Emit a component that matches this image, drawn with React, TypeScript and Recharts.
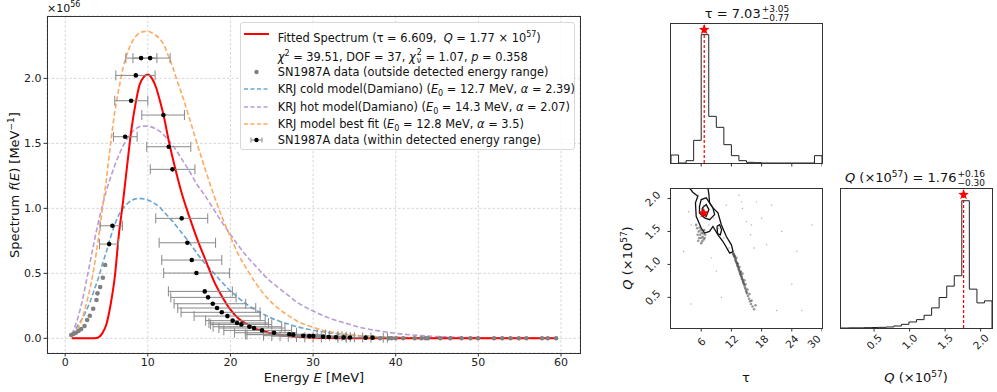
import React from 'react';
import {
  ComposedChart,
  Line,
  Scatter,
  XAxis,
  YAxis,
  CartesianGrid,
  ErrorBar,
  ReferenceLine,
} from 'recharts';

const FONT = "'DejaVu Sans', 'Liberation Sans', sans-serif";

// ---- main spectrum panel ----
const curveE = [0.8, 1, 1.5, 2, 2.5, 3, 3.5, 4, 4.5, 5, 5.5, 6, 6.5, 7, 7.5, 8, 8.5, 9, 9.5, 10, 10.5, 11, 11.5, 12, 12.5, 13, 13.5, 14, 15, 16, 17, 18, 19, 20, 21, 22, 23, 24, 25, 26, 27, 28, 30, 32, 34, 36, 38, 40, 43, 46, 50, 55, 59.5];
const fitted = [0, 0, 0, 0, 0, 0, 0.001, 0.006, 0.04, 0.11, 0.26, 0.47, 0.8, 1.05, 1.33, 1.6, 1.8, 1.95, 2.01, 2.03, 2.0, 1.93, 1.82, 1.69, 1.53, 1.39, 1.26, 1.14, 0.94, 0.76, 0.6, 0.44, 0.32, 0.22, 0.15, 0.11, 0.075, 0.055, 0.038, 0.026, 0.018, 0.012, 0.005, 0.002, 0.001, 0.0005, 0, 0, 0, 0, 0, 0, 0];
const krjCold = [0.025, 0.045, 0.095, 0.145, 0.205, 0.28, 0.37, 0.46, 0.57, 0.67, 0.78, 0.875, 0.95, 1.0, 1.035, 1.06, 1.073, 1.077, 1.073, 1.065, 1.05, 1.03, 1.005, 0.97, 0.935, 0.9, 0.86, 0.82, 0.74, 0.65, 0.57, 0.5, 0.43, 0.365, 0.31, 0.26, 0.22, 0.185, 0.155, 0.13, 0.11, 0.09, 0.062, 0.042, 0.028, 0.018, 0.012, 0.008, 0.004, 0.002, 0.001, 0, 0];
const krjHot = [0.03, 0.06, 0.15, 0.27, 0.42, 0.58, 0.74, 0.89, 1.02, 1.14, 1.24, 1.33, 1.41, 1.48, 1.535, 1.58, 1.61, 1.628, 1.633, 1.632, 1.625, 1.61, 1.59, 1.56, 1.525, 1.485, 1.44, 1.39, 1.29, 1.18, 1.09, 0.99, 0.89, 0.8, 0.71, 0.63, 0.56, 0.49, 0.43, 0.38, 0.33, 0.28, 0.21, 0.155, 0.115, 0.08, 0.057, 0.038, 0.021, 0.011, 0.005, 0.002, 0.001];
const krjBest = [0.025, 0.035, 0.075, 0.14, 0.25, 0.38, 0.55, 0.76, 0.99, 1.23, 1.5, 1.74, 1.92, 2.08, 2.19, 2.27, 2.32, 2.35, 2.36, 2.362, 2.35, 2.33, 2.3, 2.25, 2.17, 2.09, 1.99, 1.9, 1.7, 1.49, 1.29, 1.1, 0.93, 0.78, 0.64, 0.53, 0.43, 0.345, 0.275, 0.22, 0.175, 0.135, 0.085, 0.05, 0.03, 0.017, 0.01, 0.006, 0.003, 0.001, 0.0005, 0, 0];

const outsideE = [0.73, 1.0, 1.29, 1.61, 1.93, 2.34, 2.66, 2.98, 3.39, 3.79, 3.91, 4.23, 4.56, 4.84, 38.1, 39.1, 39.5, 40.0, 40.9, 42.3, 43.1, 43.6, 43.9, 45.4, 46.6, 47.96, 49.05, 49.97, 51.9, 52.9, 53.9, 54.9, 55.8, 57.7, 58.4, 59.4];
const outsideF = [0.025, 0.033, 0.043, 0.056, 0.071, 0.095, 0.141, 0.174, 0.228, 0.295, 0.346, 0.395, 0.466, 0.564, 0.001, 0.001, 0.001, 0.001, 0.001, 0.001, 0.001, 0.001, 0.001, 0.001, 0.001, 0.001, 0.001, 0.001, 0.001, 0.001, 0.001, 0.001, 0.001, 0.001, 0.001, 0.001];

const dataE = [5.32, 5.72, 7.26, 7.98, 8.55, 9.19, 10.28, 11.89, 12.53, 12.98, 14.1, 14.79, 15.32, 15.88, 16.89, 17.29, 17.86, 18.38, 18.95, 19.63, 20.27, 20.8, 21.32, 22.29, 22.85, 23.82, 25.27, 27.12, 27.6, 28.81, 29.54, 30.02, 31.2, 31.9, 32.77, 33.7, 34.46, 36.36, 37.2];
const dataF = [0.725, 0.866, 1.551, 1.828, 2.023, 2.156, 2.156, 1.718, 1.474, 1.3, 0.923, 0.735, 0.602, 0.502, 0.361, 0.315, 0.266, 0.233, 0.2, 0.171, 0.136, 0.118, 0.107, 0.089, 0.079, 0.061, 0.043, 0.031, 0.028, 0.02, 0.017, 0.017, 0.012, 0.01, 0.008, 0.007, 0.006, 0.005, 0.005];
const dataElo = [4.15, 4.23, 5.84, 6.0, 6.13, 7.34, 8.2, 9.27, 9.87, 10.3, 10.96, 11.37, 11.69, 11.92, 12.49, 12.78, 13.18, 13.62, 14.02, 15.6, 17.0, 17.4, 17.6, 17.9, 18.6, 19.2, 20.5, 21.8, 22.0, 24.0, 25.0, 26.0, 27.0, 28.0, 29.0, 30.0, 31.0, 33.0, 34.0];
const dataEhi = [6.45, 6.93, 8.71, 10.0, 10.88, 11.1, 12.7, 14.43, 15.2, 15.7, 17.25, 18.2, 18.95, 19.87, 20.23, 20.68, 21.85, 23.06, 23.58, 23.6, 24.2, 24.6, 25.0, 26.2, 26.6, 27.4, 28.0, 30.5, 31.5, 32.0, 33.0, 33.5, 34.0, 34.5, 35.0, 36.0, 37.0, 38.5, 39.0];

const energyTicks = [0, 10, 20, 30, 40, 50, 60];
const spectrumTicks = [0, 0.5, 1, 1.5, 2];

// ---- corner plot ----
const tauEdges = [0, 1.5, 3, 4.5, 6, 7.5, 9, 10.5, 12, 13.5, 15, 16.5, 18, 19.5, 21, 22.5, 24, 25.5, 27, 28.5, 30];
const tauCounts = [24, 0, 7, 68, 385, 140, 107, 55, 22, 7, 2, 1, 0, 0, 0, 0, 0, 0, 0, 22];
const qEdges = [0.035, 0.141, 0.248, 0.354, 0.46, 0.566, 0.673, 0.779, 0.885, 0.991, 1.098, 1.204, 1.31, 1.416, 1.523, 1.629, 1.735, 1.841, 1.948, 2.054, 2.16];
const qCounts = [0, 0.5, 0.5, 1, 1.5, 2, 3, 6, 11, 18, 25, 38, 60, 91, 125, 156, 380, 116, 75, 81];
const tauTicks = [6, 12, 18, 24, 30];
const qTicks = [0.5, 1, 1.5, 2];
const tauBest = 6.6;
const qBest = 1.76;
const starQ = 1.78;

const contourOuter = [[3.66, 2.163], [4.33, 2.096], [5.33, 2.035], [4.86, 1.934], [5.0, 1.73], [6.0, 1.553], [6.66, 1.476], [7.66, 1.5], [8.33, 1.577], [9.33, 1.45], [10.33, 1.348], [11.66, 1.171], [12.33, 1.195], [12.0, 1.298], [11.0, 1.424], [10.0, 1.603], [9.33, 1.782], [8.33, 1.858], [7.66, 1.934], [7.53, 2.06], [7.33, 2.163]];
const contourMid = [[5.66, 1.882], [6.0, 1.985], [7.0, 2.01], [7.66, 1.934], [8.33, 1.858], [8.66, 1.756], [7.66, 1.679], [6.66, 1.705], [5.66, 1.782], [5.66, 1.882]];
const contourInner = [[6.2, 1.858], [7.0, 1.908], [7.53, 1.832], [7.0, 1.73], [6.2, 1.756], [6.2, 1.858]];
const contourIsland = [[9.12, 1.577], [9.66, 1.603], [10.06, 1.527], [9.8, 1.45], [9.26, 1.466], [9.12, 1.577]];

const cloudDense = [
  [12.3, 1.17], [12.4, 1.15], [12.5, 1.13], [12.6, 1.12], [12.7, 1.1], [12.8, 1.08], [12.85, 1.06], [12.9, 1.05], [13.0, 1.03], [13.1, 1.02], [13.15, 1.0],
  [13.2, 0.98], [13.3, 0.97], [13.4, 0.95], [13.45, 0.93], [13.5, 0.92], [13.6, 0.9], [13.7, 0.88], [13.75, 0.86], [13.8, 0.85], [13.9, 0.83], [14.0, 0.82],
  [14.05, 0.8], [14.1, 0.78], [14.2, 0.77], [14.3, 0.75], [14.35, 0.73], [14.4, 0.72], [14.5, 0.7], [14.6, 0.68], [14.7, 0.65], [14.8, 0.63], [14.9, 0.6],
  [15.0, 0.58], [15.1, 0.56], [15.3, 0.52], [15.5, 0.48], [15.7, 0.44], [15.9, 0.4], [16.2, 0.36], [16.5, 0.32], [12.5, 1.16], [12.7, 1.13], [13.0, 1.1],
  [13.3, 1.01], [13.6, 0.96], [13.9, 0.89], [14.2, 0.86], [14.6, 0.76], [14.8, 0.7], [15.2, 0.62], [15.6, 0.55], [16.0, 0.45], [16.8, 0.38],
  [5.2, 1.55], [5.5, 1.5], [5.8, 1.45], [6.0, 1.4], [6.3, 1.42], [6.5, 1.38], [5.6, 1.4], [6.1, 1.48], [6.8, 1.45], [5.0, 1.6], [6.6, 1.52],
  [5.4, 1.36], [5.9, 1.52], [6.2, 1.35], [5.7, 1.56], [6.4, 1.47], [5.3, 1.45], [6.0, 1.32], [6.7, 1.4],
];
const cloudSparse = [[3.5, 1.8], [4.0, 1.6], [2.5, 1.2], [9, 0.9], [20, 1.9], [22, 1.5], [25, 1.2], [17, 1.95], [18, 1.7], [19, 1.3], [10, 0.5], [4, 0.4], [24, 0.7], [28, 1.6], [8, 1.1], [11, 1.9], [14, 1.95], [16, 1.6], [21, 0.3], [26, 0.3], [13.5, 2.05], [14.2, 1.85], [15, 1.65], [15.8, 1.45], [16.5, 1.25], [8.5, 1.7], [9.5, 1.55], [10.5, 1.4], [11.5, 1.25], [7, 1.75], [6.5, 1.9], [5.5, 2.05], [7.5, 1.6]];

const curveRows = curveE.map((E, i) => ({ E, fit: fitted[i], cold: krjCold[i], hot: krjHot[i], best: krjBest[i] }));
const outsideRows = outsideE.map((E, i) => ({ E, f: outsideF[i] }));
const dataRows = dataE.map((E, i) => ({ E, f: dataF[i], err: [E - dataElo[i], dataEhi[i] - E] }));

function stepRows(edges: number[], counts: number[]) {
  const out = [{ x: edges[0], y: 0 }];
  counts.forEach((c, i) => out.push({ x: edges[i], y: c }));
  out.push({ x: edges[edges.length - 1], y: counts[counts.length - 1] });
  out.push({ x: edges[edges.length - 1], y: 0 });
  return out;
}
const pairRows = (p: number[][]) => p.map(([x, y]) => ({ x, y }));

const starShape = (p: any) => {
  const pts: string[] = [];
  for (let k = 0; k < 10; k++) {
    const a = ((-90 + 36 * k) * Math.PI) / 180;
    const r = k % 2 ? 2.3 : 5.6;
    pts.push(`${p.cx + r * Math.cos(a)},${p.cy + r * Math.sin(a)}`);
  }
  return <polygon points={pts.join(' ')} fill="#ff0000" />;
};
const none = () => <g />;

const RotX = (fmt: (v: number) => string) => (props: any) => {
  const { x, y, payload } = props;
  const ty = y + 8;
  return (
    <text x={x} y={ty} transform={`rotate(-45 ${x} ${ty})`} textAnchor="middle" dominantBaseline="central" fontSize={10.5} fill="#222" fontFamily={FONT}>
      {fmt(payload.value)}
    </text>
  );
};
const RotY = (props: any) => {
  const { x, y, payload } = props;
  const tx = x - 13;
  return (
    <text x={tx} y={y} transform={`rotate(-45 ${tx} ${y})`} textAnchor="middle" dominantBaseline="central" fontSize={10.5} fill="#222" fontFamily={FONT}>
      {payload.value.toFixed(1)}
    </text>
  );
};

const abs = (s: React.CSSProperties): React.CSSProperties => ({ position: 'absolute', whiteSpace: 'nowrap', fontFamily: FONT, color: '#111', ...s });
const frame = (l: number, t: number, w: number, h: number) => (
  <div style={{ position: 'absolute', left: l, top: t, width: w, height: h, border: '1px solid #333', boxSizing: 'border-box', pointerEvents: 'none' }} />
);
const supsub = (sup: string, sub: string, fs = 9) => (
  <span style={{ display: 'inline-flex', flexDirection: 'column', fontSize: fs, lineHeight: `${fs}px`, verticalAlign: 'middle', marginLeft: 1 }}>
    <span>{sup}</span>
    <span>{sub}</span>
  </span>
);

const COLD = '#6aa6d3';
const HOT = '#b89cd6';
const BEST = '#ffaa5e';
const tickStyle = { fontSize: 11, fill: '#222', fontFamily: FONT };

function Handle({ kind }: { kind: string }) {
  return (
    <svg width={25} height={10} style={{ position: 'absolute', left: 3, top: -5 }}>
      {kind === 'fit' && <line x1={0} y1={5} x2={25} y2={5} stroke="#ff0000" strokeWidth={2} />}
      {kind === 'gray' && <circle cx={12.5} cy={5} r={2.2} fill="#808080" />}
      {kind === 'cold' && <line x1={0} y1={5} x2={25} y2={5} stroke={COLD} strokeWidth={1.6} strokeDasharray="4 2.5" />}
      {kind === 'hot' && <line x1={0} y1={5} x2={25} y2={5} stroke={HOT} strokeWidth={1.6} strokeDasharray="4 2.5" />}
      {kind === 'best' && <line x1={0} y1={5} x2={25} y2={5} stroke={BEST} strokeWidth={1.6} strokeDasharray="4 2.5" />}
      {kind === 'data' && (
        <g stroke="#888" strokeWidth={1}>
          <line x1={7} y1={5} x2={18} y2={5} />
          <line x1={7} y1={2.5} x2={7} y2={7.5} />
          <line x1={18} y1={2.5} x2={18} y2={7.5} />
          <circle cx={12.5} cy={5} r={2.2} fill="#000" stroke="none" />
        </g>
      )}
    </svg>
  );
}

function LegendRow({ y, kind, children }: { y: number; kind: string; children: React.ReactNode }) {
  return (
    <div style={{ position: 'absolute', left: 0, top: y, height: 0 }}>
      {kind && <Handle kind={kind} />}
      <div style={abs({ left: 36.7, top: -7.5, fontSize: 11.4, lineHeight: '15px' })}>{children}</div>
    </div>
  );
}

export default function App() {
  return (
    <div style={{ position: 'relative', width: 997, height: 392, background: '#fff', overflow: 'hidden', fontFamily: FONT }}>
      <style>{'body{margin:0}'}</style>

      {/* main spectrum */}
      <div style={{ position: 'absolute', left: 0, top: 0 }}>
        <ComposedChart width={600} height={392} data={curveRows} margin={{ top: 16, right: 20, bottom: 0, left: 0 }}>
          <CartesianGrid stroke="#d6d6d6" strokeDasharray="2.5 2" />
          <XAxis type="number" dataKey="E" domain={[-2.2, 62.3]} ticks={energyTicks} allowDataOverflow height={39} axisLine={false} tickSize={3.5} tickLine={{ stroke: '#333' }} tick={tickStyle} />
          <YAxis type="number" dataKey="f" domain={[-0.113, 2.48]} ticks={spectrumTicks} allowDataOverflow width={47} axisLine={false} tickSize={3.5} tickLine={{ stroke: '#333' }} tick={tickStyle} tickFormatter={(v: number) => v.toFixed(1)} />
          <Scatter data={outsideRows} isAnimationActive={false} shape={(p: any) => <circle cx={p.cx} cy={p.cy} r={2.3} fill="#808080" />} />
          <Line type="monotone" dataKey="cold" stroke={COLD} strokeWidth={1.6} strokeDasharray="5 2.5" dot={false} isAnimationActive={false} />
          <Line type="monotone" dataKey="hot" stroke={HOT} strokeWidth={1.6} strokeDasharray="5 2.5" dot={false} isAnimationActive={false} />
          <Line type="monotone" dataKey="best" stroke={BEST} strokeWidth={1.6} strokeDasharray="5 2.5" dot={false} isAnimationActive={false} />
          <Line type="monotone" dataKey="fit" stroke="#ff0000" strokeWidth={2} dot={false} isAnimationActive={false} />
          <Scatter data={dataRows} isAnimationActive={false} shape={(p: any) => <circle cx={p.cx} cy={p.cy} r={2.3} fill="#000" />}>
            <ErrorBar dataKey="err" direction="x" width={5} stroke="#888" strokeWidth={1} isAnimationActive={false} />
          </Scatter>
        </ComposedChart>
      </div>
      {frame(47, 16, 534, 338)}

      {/* legend */}
      <div style={{ position: 'absolute', left: 240, top: 22, width: 335, height: 128, border: '1px solid #d8d8d8', borderRadius: 3, background: 'rgba(255,255,255,0.85)', boxSizing: 'border-box' }}>
        <div style={{ position: 'absolute', left: -240, top: -22 }}>
          <div style={{ position: 'absolute', left: 240, top: 0 }}>
            <LegendRow y={33.3} kind="fit">
              Fitted Spectrum (τ = 6.609,&nbsp; <i>Q</i> = 1.77 × 10<sup style={{ fontSize: 8 }}>57</sup>)
            </LegendRow>
            <LegendRow y={52.7} kind="">
              <i>χ</i><sup style={{ fontSize: 8 }}>2</sup> = 39.51, DOF = 37, <i>χ</i>{supsub('2', 'ν', 8)} = 1.07, <i>p</i> = 0.358
            </LegendRow>
            <LegendRow y={71} kind="gray">SN1987A data (outside detected energy range)</LegendRow>
            <LegendRow y={88.3} kind="cold">
              KRJ cold model(Damiano) (<i>E</i><sub style={{ fontSize: 8 }}>0</sub> = 12.7 MeV, <i>α</i> = 2.39)
            </LegendRow>
            <LegendRow y={106} kind="hot">
              KRJ hot model(Damiano) (<i>E</i><sub style={{ fontSize: 8 }}>0</sub> = 14.3 MeV, <i>α</i> = 2.07)
            </LegendRow>
            <LegendRow y={123.3} kind="best">
              KRJ model best fit (<i>E</i><sub style={{ fontSize: 8 }}>0</sub> = 12.8 MeV, <i>α</i> = 3.5)
            </LegendRow>
            <LegendRow y={139.3} kind="data">SN1987A data (within detected energy range)</LegendRow>
          </div>
        </div>
      </div>

      <div style={abs({ left: 47, top: 0, fontSize: 11 })}>
        ×10<sup style={{ fontSize: 8 }}>56</sup>
      </div>
      <div style={abs({ left: 14, top: 185, fontSize: 13, transform: 'translate(-50%, -50%) rotate(-90deg)' })}>
        Spectrum <i>f</i>(<i>E</i>) [MeV<sup style={{ fontSize: 9 }}>−1</sup>]
      </div>
      <div style={abs({ left: 314, top: 377, fontSize: 13, transform: 'translate(-50%, -50%)' })}>
        Energy <i>E</i> [MeV]
      </div>

      {/* tau histogram */}
      <div style={{ position: 'absolute', left: 671, top: 23 }}>
        <ComposedChart width={151} height={148} data={stepRows(tauEdges, tauCounts)} margin={{ top: 0, right: 0, bottom: 0, left: 0 }}>
          <XAxis type="number" dataKey="x" domain={[0, 30]} ticks={tauTicks} allowDataOverflow height={8} axisLine={false} tickSize={3.5} tickLine={{ stroke: '#333' }} tickFormatter={() => ''} />
          <YAxis type="number" dataKey="y" domain={[0, 420]} hide />
          <Line type="stepAfter" dataKey="y" stroke="#222" strokeWidth={1} dot={false} isAnimationActive={false} />
          <ReferenceLine x={tauBest} stroke="#ff0000" strokeDasharray="3 2" strokeWidth={1.2} />
          <Scatter data={[{ x: tauBest, y: 400 }]} shape={starShape} isAnimationActive={false} />
        </ComposedChart>
      </div>
      {frame(670, 23, 153, 141)}
      <div style={abs({ left: 747, top: 14, fontSize: 13, transform: 'translate(-50%, -50%)' })}>
        τ = 7.03{supsub('+3.05', '−0.77')}
      </div>

      {/* tau-Q scatter */}
      <div style={{ position: 'absolute', left: 630, top: 188 }}>
        <ComposedChart width={192} height={175} margin={{ top: 0, right: 0, bottom: 0, left: 0 }}>
          <XAxis type="number" dataKey="x" domain={[0, 30]} ticks={tauTicks} allowDataOverflow height={35} axisLine={false} tickSize={3.5} tickLine={{ stroke: '#333' }} tick={RotX((v) => String(v))} />
          <YAxis type="number" dataKey="y" domain={[0.035, 2.16]} ticks={qTicks} allowDataOverflow width={41} axisLine={false} tickSize={3.5} tickLine={{ stroke: '#333' }} tick={RotY} />
          <Scatter data={pairRows(cloudSparse)} isAnimationActive={false} shape={(p: any) => <circle cx={p.cx} cy={p.cy} r={0.7} fill="#aaa" />} />
          <Scatter data={pairRows(cloudDense)} isAnimationActive={false} shape={(p: any) => <circle cx={p.cx} cy={p.cy} r={1.3} fill="#333" fillOpacity={0.5} />} />
          <Scatter data={pairRows(contourOuter)} isAnimationActive={false} shape={none} line={{ stroke: '#111', strokeWidth: 1.3 }} />
          <Scatter data={pairRows(contourMid)} isAnimationActive={false} shape={none} line={{ stroke: '#111', strokeWidth: 1.3 }} />
          <Scatter data={pairRows(contourInner)} isAnimationActive={false} shape={none} line={{ stroke: '#111', strokeWidth: 1.3 }} />
          <Scatter data={pairRows(contourIsland)} isAnimationActive={false} shape={none} line={{ stroke: '#111', strokeWidth: 1.3 }} />
          <Scatter data={[{ x: tauBest - 0.1, y: starQ }]} shape={starShape} isAnimationActive={false} />
        </ComposedChart>
      </div>
      {frame(670, 188, 153, 141)}
      <div style={abs({ left: 627, top: 258, fontSize: 13, transform: 'translate(-50%, -50%) rotate(-90deg)' })}>
        <i>Q</i> (×10<sup style={{ fontSize: 9 }}>57</sup>)
      </div>
      <div style={abs({ left: 746, top: 377, fontSize: 13, transform: 'translate(-50%, -50%)' })}>τ</div>

      {/* Q histogram */}
      <div style={{ position: 'absolute', left: 841, top: 188 }}>
        <ComposedChart width={151} height={175} data={stepRows(qEdges, qCounts)} margin={{ top: 0, right: 0, bottom: 0, left: 0 }}>
          <XAxis type="number" dataKey="x" domain={[0.035, 2.16]} ticks={qTicks} allowDataOverflow height={35} axisLine={false} tickSize={3.5} tickLine={{ stroke: '#333' }} tick={RotX((v) => v.toFixed(1))} />
          <YAxis type="number" dataKey="y" domain={[0, 418]} hide />
          <Line type="stepAfter" dataKey="y" stroke="#222" strokeWidth={1} dot={false} isAnimationActive={false} />
          <ReferenceLine x={qBest} stroke="#ff0000" strokeDasharray="3 2" strokeWidth={1.2} />
          <Scatter data={[{ x: qBest, y: 398 }]} shape={starShape} isAnimationActive={false} />
        </ComposedChart>
      </div>
      {frame(840, 188, 153, 141)}
      <div style={abs({ left: 915, top: 178, fontSize: 13, transform: 'translate(-50%, -50%)' })}>
        <i>Q</i> (×10<sup style={{ fontSize: 9 }}>57</sup>) = 1.76{supsub('+0.16', '−0.30')}
      </div>
      <div style={abs({ left: 916, top: 377, fontSize: 13, transform: 'translate(-50%, -50%)' })}>
        <i>Q</i> (×10<sup style={{ fontSize: 9 }}>57</sup>)
      </div>
    </div>
  );
}
